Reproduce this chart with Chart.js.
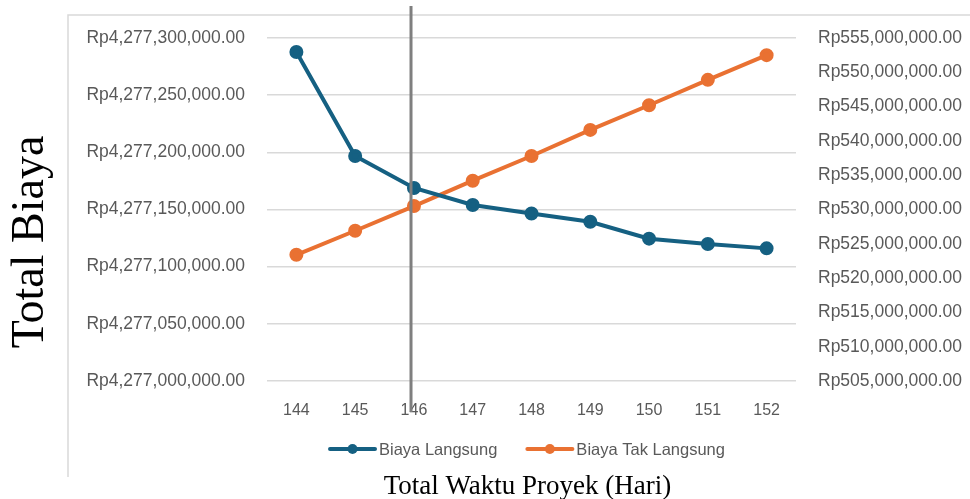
<!DOCTYPE html>
<html>
<head>
<meta charset="utf-8">
<script src="https://cdn.jsdelivr.net/npm/chart.js@4"></script>
<style>
  html, body { margin: 0; padding: 0; background: #fff; }
  #wrap { position: relative; width: 970px; height: 499px; }
</style>
</head>
<body>
<div id="wrap"><canvas id="chart-biaya"></canvas></div>
<script>
// Data
const days = ['144', '145', '146', '147', '148', '149', '150', '151', '152'];
const biayaLangsung = [4277287800, 4277196800, 4277168800, 4277154000, 4277146500, 4277139300, 4277124500, 4277119800, 4277116000];
const biayaTakLangsung = [523400000, 526900000, 530500000, 534200000, 537800000, 541600000, 545200000, 548900000, 552500000];
const leftTicks = { min: 4277000000, max: 4277300000, step: 50000 };
const rightTicks = { min: 505000000, max: 555000000, step: 5000000 };
const optimumDay = 145.95; // grey marker line

const BLUE = '#156082';
const ORANGE = '#e97132';
const TEXT = '#595959';
const GRID = '#d9d9d9';
const SANS = '"Liberation Sans", Arial, sans-serif';
const SERIF = '"Liberation Serif", "Times New Roman", serif';

function rupiah(v) {
  return 'Rp' + Number(v).toLocaleString('en-US', { minimumFractionDigits: 2, maximumFractionDigits: 2 });
}

// frame, titles, legend and the optimum marker
const decorations = {
  id: 'decorations',
  beforeDraw(chart) {
    const ctx = chart.ctx;
    ctx.save();
    ctx.strokeStyle = GRID;
    ctx.lineWidth = 1.5;
    ctx.beginPath();
    ctx.moveTo(68, 477);
    ctx.lineTo(68, 15);
    ctx.lineTo(970, 15);
    ctx.stroke();
    ctx.restore();
  },
  afterDraw(chart) {
    const ctx = chart.ctx;
    const area = chart.chartArea;
    const x = chart.scales.x;

    // optimum marker line
    const base = days.indexOf(String(Math.floor(optimumDay)));
    const step = x.getPixelForValue(1) - x.getPixelForValue(0);
    const mx = x.getPixelForValue(base) + (optimumDay - Math.floor(optimumDay)) * step;
    ctx.save();
    ctx.strokeStyle = '#7f7f7f';
    ctx.lineWidth = 3;
    ctx.beginPath();
    ctx.moveTo(mx, 6);
    ctx.lineTo(mx, 412);
    ctx.stroke();
    ctx.restore();

    // legend
    ctx.save();
    ctx.font = '16.5px ' + SANS;
    ctx.textBaseline = 'middle';
    const items = chart.data.datasets.map(ds => ({ label: ds.label, color: ds.borderColor }));
    const markW = 45, gap = 4, spacing = 30;
    const widths = items.map(it => markW + gap + ctx.measureText(it.label).width);
    const total = widths.reduce((a, b) => a + b, 0) + spacing * (items.length - 1);
    let lx = (area.left + area.right) / 2 - 4 - total / 2;
    const ly = 449;
    items.forEach((it, i) => {
      ctx.strokeStyle = it.color;
      ctx.lineWidth = 4;
      ctx.lineCap = 'round';
      ctx.beginPath();
      ctx.moveTo(lx, ly);
      ctx.lineTo(lx + markW, ly);
      ctx.stroke();
      ctx.fillStyle = it.color;
      ctx.beginPath();
      ctx.arc(lx + markW / 2, ly, 5, 0, Math.PI * 2);
      ctx.fill();
      ctx.fillStyle = TEXT;
      ctx.fillText(it.label, lx + markW + gap, ly + 1);
      lx += widths[i] + spacing;
    });
    ctx.restore();

    // axis titles
    ctx.save();
    ctx.fillStyle = '#000';
    ctx.font = '27px ' + SERIF;
    ctx.textAlign = 'center';
    ctx.textBaseline = 'middle';
    ctx.fillText('Total Waktu Proyek (Hari)', (area.left + area.right) / 2 - 4, 487);
    ctx.translate(31, 242);
    ctx.rotate(-Math.PI / 2);
    ctx.font = '46px ' + SERIF;
    ctx.fillText('Total Biaya', 0, 0);
    ctx.restore();
  }
};

new Chart(document.getElementById('chart-biaya'), {
  type: 'line',
  data: {
    labels: days,
    datasets: [{
      label: 'Biaya Langsung',
      data: biayaLangsung,
      yAxisID: 'y',
      borderColor: BLUE,
      backgroundColor: BLUE,
      borderWidth: 4,
      pointRadius: 5,
      pointHoverRadius: 5,
      tension: 0,
    }, {
      label: 'Biaya Tak Langsung',
      data: biayaTakLangsung,
      yAxisID: 'y1',
      borderColor: ORANGE,
      backgroundColor: ORANGE,
      borderWidth: 4,
      pointRadius: 5,
      pointHoverRadius: 5,
      tension: 0,
    }],
  },
  options: {
    responsive: true,
    maintainAspectRatio: false,
    animation: false,
    layout: { padding: { left: 0, right: 0, top: 38, bottom: 78 } },
    plugins: { legend: { display: false }, tooltip: { enabled: false } },
    scales: {
      x: {
        offset: true,
        grid: { display: false },
        border: { display: false },
        ticks: { color: TEXT, font: { family: SANS, size: 16 }, padding: 12 },
        afterFit(scale) { scale.height = 40; },
      },
      y: {
        position: 'left',
        min: leftTicks.min,
        max: leftTicks.max,
        grid: { color: GRID, lineWidth: 1.5, drawTicks: false },
        border: { display: false },
        ticks: {
          stepSize: leftTicks.step,
          color: TEXT,
          font: { family: SANS, size: 17.5 },
          padding: 22,
          callback: v => rupiah(v),
        },
        afterFit(scale) { scale.width = 267; },
      },
      y1: {
        position: 'right',
        min: rightTicks.min,
        max: rightTicks.max,
        grid: { display: false, drawTicks: false },
        border: { display: false },
        ticks: {
          stepSize: rightTicks.step,
          color: TEXT,
          font: { family: SANS, size: 17.5 },
          padding: 22,
          callback: v => rupiah(v),
        },
        afterFit(scale) { scale.width = 174; },
      },
    },
  },
  plugins: [decorations],
});
</script>
</body>
</html>
